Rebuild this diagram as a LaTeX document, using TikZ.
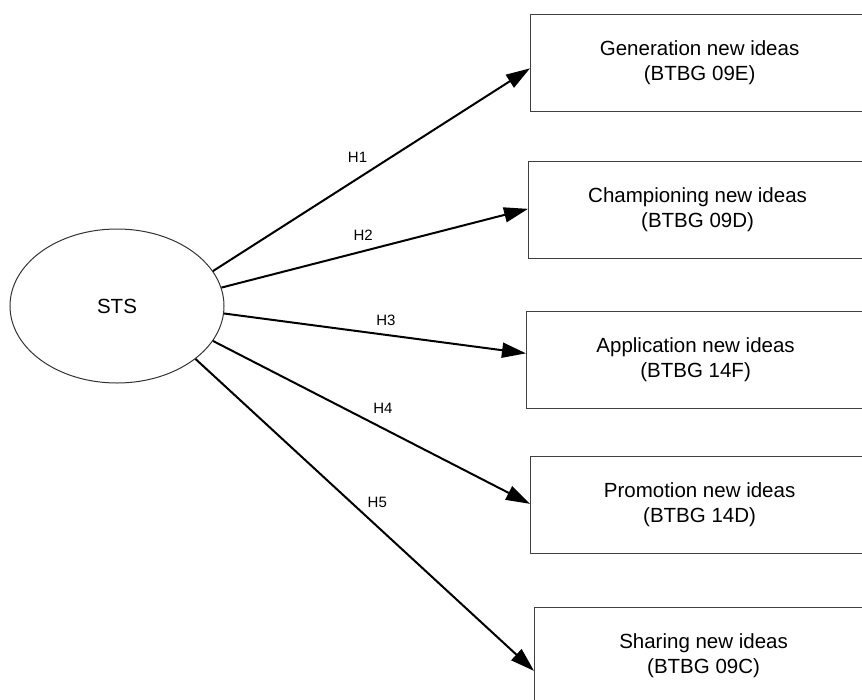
\documentclass[tikz,border=0pt]{standalone}
\usepackage{fontspec}
\setmainfont{Liberation Sans}
\usetikzlibrary{shapes.geometric,arrows.meta}

\begin{document}
\begin{tikzpicture}[x=1pt, y=-1pt,
   every node/.style={font=\fontsize{20.5}{25}\selectfont},
   construct/.style={draw=black!80, line width=1pt, ellipse, minimum width=214pt, minimum height=154pt, inner sep=0pt},
   idea/.style={draw=black!75, line width=1.2pt, rectangle, anchor=north west, minimum width=338pt, minimum height=96.5pt, align=center, inner sep=0pt},
   hyp/.style={draw, line width=2pt, -{Triangle[length=24pt, width=15pt]}},
   hlabel/.style={font=\fontsize{15}{18}\selectfont, inner sep=0pt}]

\useasboundingbox (0,0) rectangle (862,699);
\clip (0,0) rectangle (862,699);

\node[construct] (sts) at (117,306) {STS};

\node[idea] (gen)   at (530,14)  {Generation new ideas\\(BTBG 09E)};
\node[idea] (champ) at (528,161) {Championing new ideas\\(BTBG 09D)};
\node[idea] (appl)  at (526,311) {Application new ideas\\(BTBG 14F)};
\node[idea] (prom)  at (530,456) {Promotion new ideas\\(BTBG 14D)};
\node[idea] (share) at (534,607) {Sharing new ideas\\(BTBG 09C)};

\draw[hyp] (sts.20.75) -- node[hlabel, pos=.456, above=15pt] {H1} ([yshift=-5.5pt]gen.west);
\draw[hyp] (sts.10.35) -- node[hlabel, pos=.4625, above=10pt] {H2} ([yshift=1pt]champ.west);
\draw[hyp] (sts.-4.3)  -- node[hlabel, pos=.536, above=8pt] {H3} ([yshift=6.5pt]appl.west);
\draw[hyp] (sts.-20)   -- node[hlabel, pos=.536, above=14pt] {H4} ([yshift=1pt]prom.west);
\draw[hyp] (sts.-34.7) -- node[hlabel, pos=.537, above=18pt] {H5} ([yshift=-15pt]share.west);

\end{tikzpicture}
\end{document}
